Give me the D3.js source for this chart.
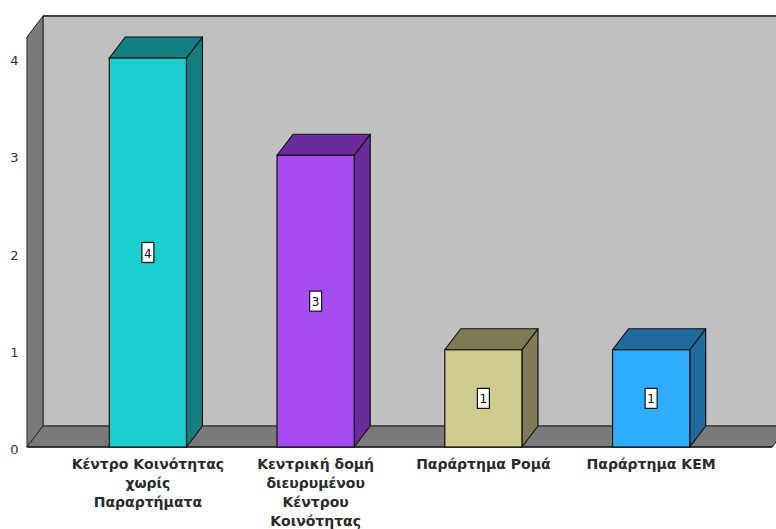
<!DOCTYPE html>
<html><head><meta charset="utf-8">
<script src="https://cdn.jsdelivr.net/npm/d3@7/dist/d3.min.js"></script>
<style>body{margin:0;background:#fff}svg{display:block}</style>
</head><body>
<svg id="c" width="776" height="529"></svg>
<script>
const categories = ["Κέντρο Κοινότητας χωρίς Παραρτήματα","Κεντρική δομή διευρυμένου Κέντρου Κοινότητας","Παράρτημα Ρομά","Παράρτημα ΚΕΜ"];
const categoryLines = [["Κέντρο Κοινότητας","χωρίς","Παραρτήματα"],["Κεντρική δομή","διευρυμένου","Κέντρου","Κοινότητας"],["Παράρτημα Ρομά"],["Παράρτημα ΚΕΜ"]];
const values = [4,3,1,1];
const frontColors = ["#1ccdcd","#a64cf0","#cfcb8f","#2eacff"];
const sideColors = ["#137f7f","#6a2c9c","#7f7b56","#1f6b9e"];
const yTicks = [0,1,2,3,4];

(function(){
const svg = d3.select("#c");
const dx = 16, dy = -21;
const pLeft = 27, pRight = 772, pBottom = 447, pTop = 58;
const y = d3.scaleLinear().domain([0,4]).range([pBottom, pTop]);
const x = d3.scaleBand().domain(categories).range([64,735]).paddingInner(0.54).paddingOuter(0.27);
const wallTop = 37;
const pts = a=>a.map(p=>p.join(",")).join(" ");

// back wall
svg.append("rect").attr("x",pLeft+dx).attr("y",wallTop+dy).attr("width",800).attr("height",pBottom-wallTop)
  .attr("fill","#c0c0c0").attr("stroke","#333").attr("stroke-width",1);
svg.append("line").attr("x1",pLeft+dx).attr("x2",800).attr("y1",wallTop+dy).attr("y2",wallTop+dy).attr("stroke","#404040").attr("stroke-width",2);
// left wall
svg.append("polygon").attr("points",pts([[pLeft,wallTop],[pLeft+dx,wallTop+dy],[pLeft+dx,pBottom+dy],[pLeft,pBottom]]))
  .attr("fill","#7a7a7a").attr("stroke","#222").attr("stroke-width",1);
// floor
svg.append("polygon").attr("points",pts([[pLeft,pBottom],[pLeft+dx,pBottom+dy],[800,pBottom+dy],[800,pBottom]]))
  .attr("fill","#7a7a7a").attr("stroke","#222").attr("stroke-width",1);
svg.append("polygon").attr("points",pts([[pRight,pBottom+1],[pRight+dx,pBottom+dy+1],[800,pBottom+dy+1],[800,pBottom+1]]))
  .attr("fill","#fff");
svg.append("line").attr("x1",pLeft).attr("x2",pRight).attr("y1",pBottom).attr("y2",pBottom).attr("stroke","#222").attr("stroke-width",1.5);
svg.append("line").attr("x1",pRight).attr("x2",pRight+dx).attr("y1",pBottom).attr("y2",pBottom+dy).attr("stroke","#222").attr("stroke-width",1);

// y tick labels
svg.append("g").selectAll("text").data(yTicks).join("text")
  .attr("x",14.5).attr("y",d=>y(d)+7).attr("text-anchor","middle")
  .attr("font-family","DejaVu Sans").attr("font-size",13).attr("fill","#333").text(d=>d);

// bars
const bars = svg.append("g").selectAll("g").data(categories).join("g");
bars.each(function(c,i){
  const g = d3.select(this);
  const x0 = x(c), x1 = x(c)+x.bandwidth(), yt = y(values[i]), yb = y(0);
  g.append("polygon").attr("points",pts([[x1,yt],[x1+dx,yt+dy],[x1+dx,yb+dy],[x1,yb]]))
    .attr("fill",sideColors[i]).attr("stroke","#111").attr("stroke-width",1.2).attr("stroke-linejoin","round");
  g.append("polygon").attr("points",pts([[x0,yt],[x0+dx,yt+dy],[x1+dx,yt+dy],[x1,yt]]))
    .attr("fill",sideColors[i]).attr("stroke","#111").attr("stroke-width",1.2).attr("stroke-linejoin","round");
  g.append("rect").attr("x",x0).attr("y",yt).attr("width",x1-x0).attr("height",yb-yt)
    .attr("fill",frontColors[i]).attr("stroke","#111").attr("stroke-width",1.2);
  const cx = (x0+x1)/2, cy = (yt+yb)/2;
  g.append("rect").attr("x",cx-6).attr("y",cy-10).attr("width",12).attr("height",20)
    .attr("fill","#fff").attr("stroke","#111").attr("stroke-width",1.2);
  g.append("text").attr("x",cx).attr("y",cy+5).attr("text-anchor","middle")
    .attr("font-family","DejaVu Sans").attr("font-size",12).attr("fill","#111").text(values[i]);
  const t = g.append("text").attr("text-anchor","middle").attr("font-family","DejaVu Sans")
    .attr("font-size",14).attr("font-weight","bold").attr("fill","#2a2a2a");
  categoryLines[i].forEach((ln,k)=>{
    t.append("tspan").attr("x",cx).attr("y",469+k*19).text(ln);
  });
});
})();
</script>
</body></html>
